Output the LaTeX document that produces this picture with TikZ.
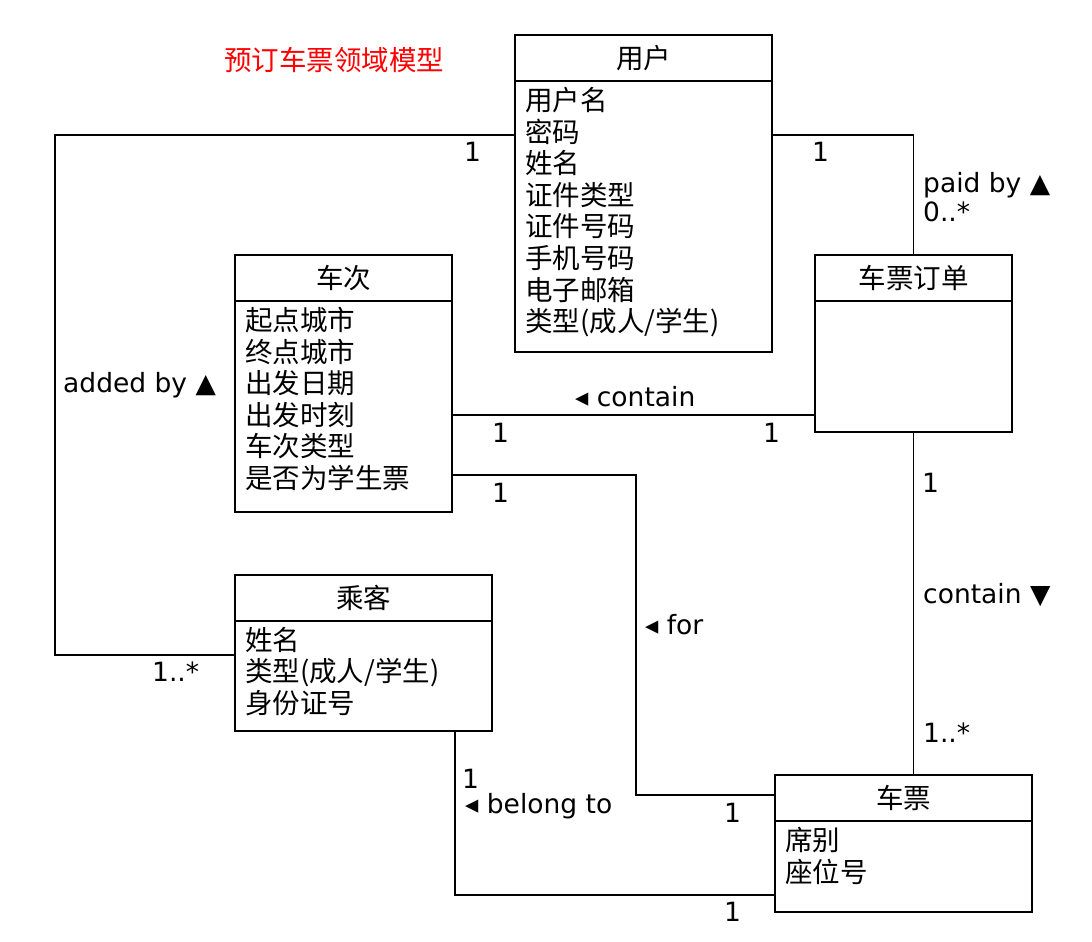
\documentclass[tikz,border=0pt]{standalone}
\usepackage{fontspec}
\setmainfont{DejaVu Sans}
\newfontfamily\cjk{Noto Sans CJK SC}
\begin{document}
\begin{tikzpicture}[x=1pt,y=-1pt,
  cls/.style={draw, line width=1.8pt, anchor=north west, inner sep=0pt, outer sep=0pt},
  hdr/.style={font=\cjk\fontsize{27.5}{31.6}\selectfont, inner sep=0pt},
  attr/.style={anchor=north west, align=left, inner sep=0pt, font=\cjk\fontsize{27.5}{31.6}\selectfont},
  lbl/.style={anchor=west, inner sep=0pt, font=\fontsize{26.5}{30}\selectfont},
  conn/.style={line width=1.8pt}]
\useasboundingbox (0,0) rectangle (1092,942);

% title
\node[anchor=west, inner sep=0pt, text=red, font=\cjk\fontsize{27.5}{30}\selectfont] (title) at (224,60) {预订车票领域模型};

% classes
\node[cls, minimum width=257pt, minimum height=317pt] (user) at (515,35) {};
\node[cls, minimum width=217pt, minimum height=257pt] (train) at (235,255) {};
\node[cls, minimum width=197pt, minimum height=177pt] (order) at (815,255) {};
\node[cls, minimum width=257pt, minimum height=156pt] (pass) at (235,575) {};
\node[cls, minimum width=257pt, minimum height=137pt] (ticket) at (775,775) {};

% header separators
\foreach \c in {user,train,order,pass,ticket}
  \draw[conn] ([yshift=-46pt]\c.north west) -- ([yshift=-46pt]\c.north east);

% class names
\node[hdr] (userh) at ([yshift=-23pt]user.north) {用户};
\node[hdr] (trainh) at ([yshift=-23pt]train.north) {车次};
\node[hdr] (orderh) at ([yshift=-23pt]order.north) {车票订单};
\node[hdr] (passh) at ([yshift=-23pt]pass.north) {乘客};
\node[hdr] (ticketh) at ([yshift=-23pt]ticket.north) {车票};

% attributes
\node[attr] (usera) at ([xshift=10pt,yshift=-52pt]user.north west)
  {用户名\\密码\\姓名\\证件类型\\证件号码\\手机号码\\电子邮箱\\类型(成人/学生)};
\node[attr] (traina) at ([xshift=10pt,yshift=-52pt]train.north west)
  {起点城市\\终点城市\\出发日期\\出发时刻\\车次类型\\是否为学生票};
\node[attr] (passa) at ([xshift=10pt,yshift=-52pt]pass.north west)
  {姓名\\类型(成人/学生)\\身份证号};
\node[attr] (ticketa) at ([xshift=10pt,yshift=-52pt]ticket.north west)
  {席别\\座位号};

% user -- passenger
\coordinate (bendA) at (55,135);
\draw[conn] ([yshift=-100pt]user.north west) -- (bendA) |- ([yshift=-80pt]pass.north west);
\node[lbl] (m1) at (464,152) {1};
\node[lbl] (m2) at (152,672) {1..*};
\node[lbl] (r1) at (63,385) {added by ▲};

% user -- order
\draw[conn] ([yshift=-100pt]user.north east) -| (order.north);
\node[lbl] (m3) at (812,152) {1};
\node[lbl] (r2) at (923,185) {paid by ▲};
\node[lbl] (m4) at (923,212) {0..*};

% train -- order
\draw[conn] ([yshift=-160pt]train.north east) -- ([yshift=-160pt]order.north west);
\node[lbl] (r3) at (575,397) {◂ contain};
\node[lbl] (m5) at (492,433) {1};
\node[lbl] (m6) at (763,433) {1};

% train -- ticket
\coordinate (bendB) at (636,475);
\draw[conn] ([yshift=-220pt]train.north east) -- (bendB) |- ([yshift=-20pt]ticket.north west);
\node[lbl] (m7) at (492,493) {1};
\node[lbl] (r4) at (645,625) {◂ for};
\node[lbl] (m8) at (724,813) {1};

% order -- ticket
\draw[conn] (order.south) -- (order.south |- ticket.north);
\node[lbl] (m9) at (922,483) {1};
\node[lbl] (r5) at (923,595) {contain ▼};
\node[lbl] (m10) at (923,733) {1..*};

% passenger -- ticket
\coordinate (bendC) at (455,895);
\draw[conn] (pass.south -| bendC) -- (bendC) -- ([yshift=-120pt]ticket.north west);
\node[lbl] (m11) at (462,779) {1};
\node[lbl] (r6) at (465,806) {◂ belong to};
\node[lbl] (m12) at (724,912) {1};
\end{tikzpicture}
\end{document}
